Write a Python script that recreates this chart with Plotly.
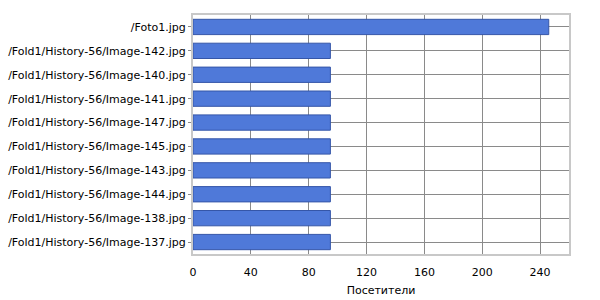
import plotly.graph_objects as go

categories = [
    "/Foto1.jpg",
    "/Fold1/History-56/Image-142.jpg",
    "/Fold1/History-56/Image-140.jpg",
    "/Fold1/History-56/Image-141.jpg",
    "/Fold1/History-56/Image-147.jpg",
    "/Fold1/History-56/Image-145.jpg",
    "/Fold1/History-56/Image-143.jpg",
    "/Fold1/History-56/Image-144.jpg",
    "/Fold1/History-56/Image-138.jpg",
    "/Fold1/History-56/Image-137.jpg",
]
visitors = [246, 95, 95, 95, 95, 95, 95, 95, 95, 95]
x_ticks = [0, 40, 80, 120, 160, 200, 240]
x_title = "Посетители"

fig = go.Figure()
fig.add_trace(go.Bar(
    y=categories, x=visitors, orientation="h",
    marker=dict(color="#4f79d9", line=dict(color="#3556a8", width=1)),
    width=0.64,
))

font = dict(family="DejaVu Sans, Tahoma, sans-serif", size=11, color="#000000")
fig.update_layout(
    width=600, height=300,
    margin=dict(l=193, r=31, t=15, b=46),
    paper_bgcolor="white", plot_bgcolor="white",
    showlegend=False,
    font=font,
    xaxis=dict(
        range=[0, 260], tickvals=x_ticks, showgrid=True, gridcolor="#8a8a8a",
        gridwidth=1, zeroline=False, ticks="outside", ticklen=7, tickcolor="#ffffff",
        showline=True, linecolor="#c8c8c8", linewidth=2, mirror=True,
        automargin=False,
        title=dict(text=x_title, standoff=8, font=font),
    ),
    yaxis=dict(
        categoryorder="array", categoryarray=categories[::-1],
        range=[-0.5, 9.5], showgrid=True, gridcolor="#8a8a8a", gridwidth=1,
        ticks="outside", ticklen=3, tickcolor="#8a8a8a",
        showline=True, linecolor="#c8c8c8", linewidth=2, mirror=True,
        automargin=False,
    ),
)
fig.write_html("out.html")
